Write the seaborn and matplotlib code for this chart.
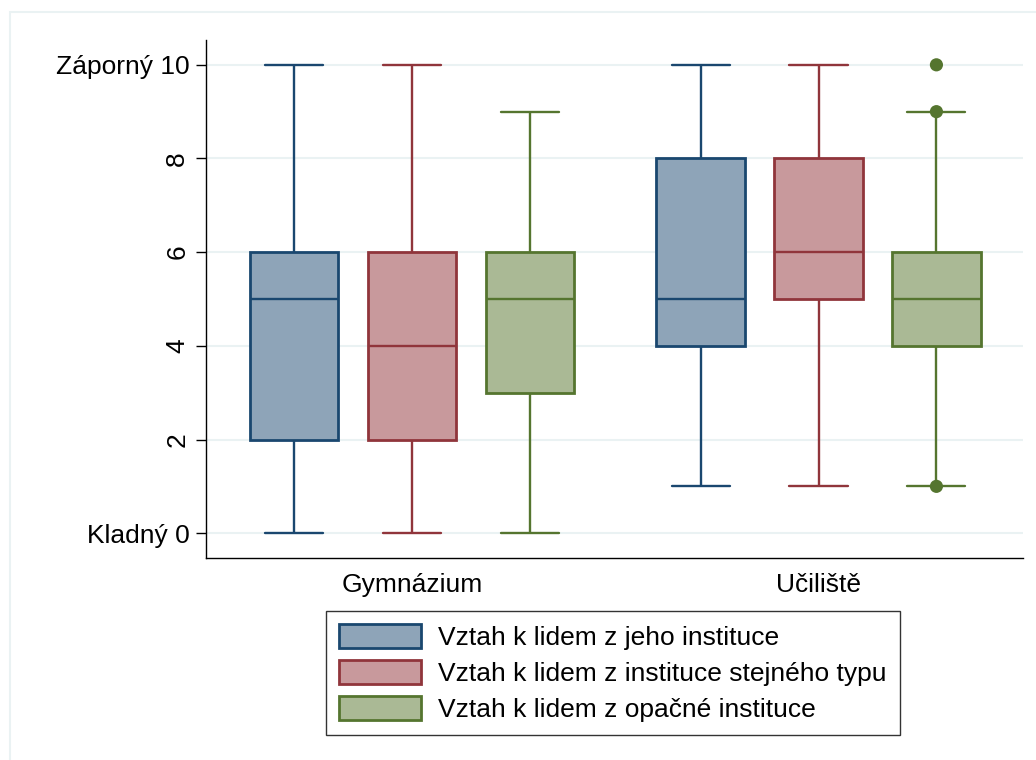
import numpy as np
import pandas as pd
import seaborn as sns
import matplotlib.pyplot as plt
from matplotlib.patches import Patch, Rectangle

# ---------------- data ----------------
groups = ["Gymnázium", "Učiliště"]
series = [
    "Vztah k lidem z jeho instituce",
    "Vztah k lidem z instituce stejného typu",
    "Vztah k lidem z opačné instituce",
]
# five-number summaries, one list per series, one value per group
whisker_low = {series[0]: [0, 1], series[1]: [0, 1], series[2]: [0, 1]}
q1 = {series[0]: [2, 4], series[1]: [2, 5], series[2]: [3, 4]}
median = {series[0]: [5, 5], series[1]: [4, 6], series[2]: [5, 5]}
q3 = {series[0]: [6, 8], series[1]: [6, 8], series[2]: [6, 6]}
whisker_high = {series[0]: [10, 10], series[1]: [10, 10], series[2]: [9, 9]}

# outliers
outlier_group = ["Učiliště", "Učiliště", "Učiliště"]
outlier_series = [series[2], series[2], series[2]]
outlier_value = [10, 9, 1]

ytick_values = [0, 2, 4, 6, 8, 10]
ytick_labels = ["Kladný 0", "2", "4", "6", "8", "Záporný 10"]

# ---------------- styles ----------------
edge_colors = ["#1a476f", "#90353b", "#55752f"]
fill_colors = ["#8ea4b8", "#c8999c", "#aab995"]
grid_color = "#eaf2f3"

rows = []
for s in series:
    for gi, g in enumerate(groups):
        for v in (whisker_low[s][gi], q1[s][gi], median[s][gi], q3[s][gi], whisker_high[s][gi]):
            rows.append({"group": g, "series": s, "value": v})
df = pd.DataFrame(rows)

sns.set_theme(style="white")
plt.rcParams["font.family"] = ["Liberation Sans", "DejaVu Sans"]
plt.rcParams["text.color"] = "black"
plt.rcParams["xtick.color"] = "black"
plt.rcParams["ytick.color"] = "black"
plt.rcParams["axes.labelcolor"] = "black"

fig = plt.figure(figsize=(10.36, 7.6), dpi=100)
ax = fig.add_axes([206 / 1036, 1 - 558 / 760, (1023 - 206) / 1036, (558 - 40) / 760])

# outer graph-region border
fig.patches.append(Rectangle((10 / 1036, -0.1), 1.2, 1 - 12 / 760 + 0.1,
                             transform=fig.transFigure, fill=False,
                             edgecolor=grid_color, linewidth=1.5, zorder=0))

WIDTH = 0.87
LW = 1.7
for si, s in enumerate(series):
    sub = df[df["series"] == s]
    sns.boxplot(
        data=sub, x="group", y="value", hue="series",
        order=groups, hue_order=series,
        palette=dict(zip(series, fill_colors)),
        saturation=1, width=WIDTH, gap=0.25, dodge=True,
        whis=(0, 100), linecolor=edge_colors[si], linewidth=LW,
        legend=False, ax=ax, capwidths=0.143,
        medianprops={"color": edge_colors[si], "linewidth": LW},
        whiskerprops={"color": edge_colors[si], "linewidth": LW},
        capprops={"color": edge_colors[si], "linewidth": LW},
        boxprops={"edgecolor": edge_colors[si], "linewidth": 2.0},
    )

# outliers, placed at the dodged positions of their box
slot = WIDTH / len(series)
ox = [groups.index(g) + (series.index(s) - (len(series) - 1) / 2) * slot
      for g, s in zip(outlier_group, outlier_series)]
oc = [edge_colors[series.index(s)] for s in outlier_series]
ax.scatter(ox, outlier_value, s=90, c=oc, zorder=5, linewidths=0)

ax.set_xlim(-0.507, 1.503)
ax.set_ylim(-0.53, 10.53)
ax.set_yticks(ytick_values)
ax.set_yticklabels(ytick_labels, fontsize=19, color="black")
for lbl in ax.get_yticklabels()[1:-1]:
    lbl.set_rotation(90)
    lbl.set_verticalalignment("center")
ax.tick_params(axis="y", length=7, width=1, color="black", pad=5, left=True,
               labelcolor="black")
ax.tick_params(axis="x", length=0, pad=11, labelsize=19, labelcolor="black")
ax.set_xlabel("")
ax.set_ylabel("")
ax.yaxis.grid(True, color=grid_color, linewidth=1.5)
ax.set_axisbelow(True)
for side in ("top", "right"):
    ax.spines[side].set_visible(False)
for side in ("left", "bottom"):
    ax.spines[side].set_color("black")
    ax.spines[side].set_linewidth(1.0)

handles = [Patch(facecolor=f, edgecolor=e, linewidth=2.0) for f, e in zip(fill_colors, edge_colors)]
leg = fig.legend(handles, series, loc="upper center",
                 bbox_to_anchor=(613 / 1036, 1 - 611 / 760),
                 fontsize=19, frameon=True, fancybox=False, shadow=False,
                 handlelength=3.1, handleheight=1.0, handletextpad=0.65,
                 labelspacing=0.38, borderpad=0.5, borderaxespad=0)
for t in leg.get_texts():
    t.set_color("black")
leg.get_frame().set_edgecolor("black")
leg.get_frame().set_linewidth(1.0)

fig.savefig("out.png", dpi=100, facecolor="white")
